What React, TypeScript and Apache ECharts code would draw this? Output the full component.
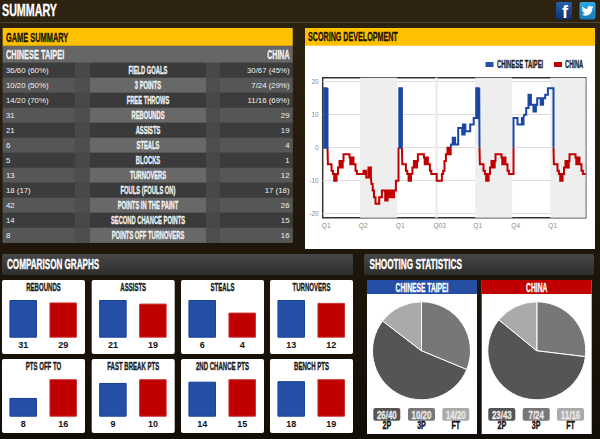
import React, { useEffect, useRef } from "react";
import * as echarts from "echarts";

const TWITTER_D = "M23.953 4.57a10 10 0 0 1-2.825.775 4.958 4.958 0 0 0 2.163-2.723c-.951.555-2.005.959-3.127 1.184a4.92 4.92 0 0 0-8.384 4.482C7.69 8.095 4.067 6.13 1.64 3.162a4.822 4.822 0 0 0-.666 2.475c0 1.71.87 3.213 2.188 4.096a4.904 4.904 0 0 1-2.228-.616v.06a4.923 4.923 0 0 0 3.946 4.827 4.996 4.996 0 0 1-2.212.085 4.936 4.936 0 0 0 4.604 3.417 9.867 9.867 0 0 1-6.102 2.105c-.39 0-.779-.023-1.17-.067a13.995 13.995 0 0 0 7.557 2.209c9.053 0 13.998-7.496 13.998-13.985 0-.21 0-.42-.015-.63A9.935 9.935 0 0 0 24 4.59z";
echarts.graphic.registerShape("twitterBird", echarts.graphic.extendPath(TWITTER_D, {}));

const TEAM_A = "CHINESE TAIPEI";
const TEAM_B = "CHINA";
const BLUE = "#254fa5";
const BLUE_EDGE = "#153f9c";
const RED = "#c00000";
const RED_EDGE = "#c83030";
const BEBAS = '"Liberation Sans Narrow", "Liberation Sans", sans-serif';

const statLabels = ["FIELD GOALS", "3 POINTS", "FREE THROWS", "REBOUNDS", "ASSISTS", "STEALS", "BLOCKS", "TURNOVERS", "FOULS (FOULS ON)", "POINTS IN THE PAINT", "SECOND CHANCE POINTS", "POINTS OFF TURNOVERS"];
const statsA = ["36/60 (60%)", "10/20 (50%)", "14/20 (70%)", "31", "21", "6", "5", "13", "18 (17)", "42", "14", "8"];
const statsB = ["30/67 (45%)", "7/24 (29%)", "11/16 (69%)", "29", "19", "4", "1", "12", "17 (18)", "26", "15", "16"];

const compareTitles = ["REBOUNDS", "ASSISTS", "STEALS", "TURNOVERS", "PTS OFF TO", "FAST BREAK PTS", "2ND CHANCE PTS", "BENCH PTS"];
const compareA = [31, 21, 6, 13, 8, 9, 14, 18];
const compareB = [29, 19, 4, 12, 16, 10, 15, 19];

const shotNames = ["2P", "3P", "FT"];
const shotsA = ["26/40", "10/20", "14/20"];
const shotsB = ["23/43", "7/24", "11/16"];
const pointsA = [52, 30, 14];
const pointsB = [46, 21, 11];

const xTickValues = [3.5, 40.5, 77.5, 117, 155, 193, 230];
const xTickLabels = ["Q1", "Q2", "Q1", "Q03", "Q1", "Q4", "Q1"];
const yTickValues = [-20, -10, 0, 10, 20];
const bands = [[37.5, 74.5], [112.5, 115.2], [152.5, 189.5], [227.5, 263]];

const blueSeg1 = [[0, 0], [1.6, 18], [2.4, 0], [3.2, 18], [4, 0], [4.8, 18], [4.8, 0]];
const blueSeg2 = [[75.8, 0], [76.6, 18], [77.4, 0], [78.2, 18], [79.2, 0]];
const blueSeg3 = [[128, 0], [128.5, 1], [130, 3], [130.8, 1], [131.6, 3], [132.4, 1], [135.5, 6], [139.5, 4], [140.3, 7], [141.1, 4], [141.9, 7], [142.7, 5], [147.5, 7], [151, 9], [153.5, 18], [154.3, 9], [155.1, 18], [155.9, 9], [156.5, 18], [156.8, 0]];
const blueSeg4 = [[190.8, 0], [190.8, 9], [194.8, 7], [199.2, 9], [200, 7], [200.8, 9], [201.5, 10], [203.5, 12], [205.8, 16], [206.6, 13], [207.4, 16], [208.2, 13], [210.8, 11], [211.6, 13], [212.4, 11], [213.2, 13], [214.5, 15], [218, 13], [218.8, 15], [219.6, 13], [220.4, 15], [222.5, 16], [225.2, 18], [230.8, 0]];

const redSeg1 = [[4.8, 0], [5.2, -5], [8.8, -7], [10.2, -8], [11.5, -10], [12.3, -8], [13.1, -10], [13.9, -8], [15.3, -6], [16.8, -4], [17.6, -6], [18.4, -4], [19.2, -6], [20, -4], [20.8, -2], [26.8, -3], [27.6, -5], [28.4, -3], [29.2, -5], [30, -3], [30.8, -5], [32.8, -7], [34.2, -8], [40.8, -7], [41.6, -8], [42.4, -7], [43.5, -9], [45.8, -6], [46.6, -9], [47.4, -6], [48.2, -9], [48.8, -11], [50, -13], [51.3, -15], [52.8, -17], [56.5, -15], [59.2, -13], [62.5, -16], [63.3, -13], [64.1, -16], [64.9, -13], [65.7, -15], [66.5, -13], [67.3, -15], [68.1, -13], [68.9, -15], [69.7, -13], [70.5, -15], [71.3, -13], [73.2, -10], [75.8, 0]];
const redSeg2 = [[79.2, 0], [79.6, -5], [83.2, -7], [84.6, -8], [85.9, -10], [86.7, -8], [87.5, -10], [88.3, -8], [89.7, -6], [91.2, -4], [92, -6], [92.8, -4], [93.6, -6], [94.4, -4], [95.2, -2], [101.2, -3], [102, -5], [102.8, -3], [103.6, -5], [104.4, -3], [105.2, -5], [107.2, -7], [108.6, -8], [114, -10], [119.2, -8], [120.5, -7], [121.8, -4], [123.2, -2], [124.8, 0], [125.6, -2], [126.4, 0], [127.2, -2], [128, 0]];
const redSeg3 = [[156.8, 0], [157.2, -5], [160.8, -7], [162.2, -8], [163.5, -10], [164.3, -8], [165.1, -10], [165.9, -8], [167.3, -6], [168.8, -4], [169.6, -6], [170.4, -4], [171.2, -6], [172, -4], [172.8, -2], [178.8, -3], [179.6, -5], [180.4, -3], [181.2, -5], [182, -3], [182.8, -5], [184.8, -7], [186.2, -8], [190.8, 0]];
const redSeg4 = [[230.8, 0], [231.2, -5], [234.8, -7], [236.2, -8], [237.5, -10], [238.3, -8], [239.1, -10], [239.9, -8], [241.3, -6], [242.8, -4], [243.6, -6], [244.4, -4], [245.2, -6], [246, -4], [246.8, -2], [252.8, -3], [253.6, -5], [254.4, -3], [255.2, -5], [256, -3], [256.8, -5], [258.8, -7], [260.2, -8], [263, -8]];

const cardX = [2, 91.7, 181, 270];
const badgeXA = [373.3, 408, 442.3];
const badgeXB = [488.3, 522.7, 557];
const badgeColors = ["#555555", "#777777", "#aaaaaa"];

const joinSegments = (segs: number[][][]) => {
  const out: (number | null)[][] = [];
  segs.forEach((s) => {
    out.push(...s);
    out.push([s[s.length - 1][0], null]);
  });
  return out;
};

const vGrad = (a: string, b: string) =>
  new echarts.graphic.LinearGradient(0, 0, 0, 1, [
    { offset: 0, color: a },
    { offset: 1, color: b },
  ]);

const box = (x: number, y: number, w: number, h: number, fill: any, r = 0, z = -5, extra: any = {}) => ({
  type: "rect",
  z,
  silent: true,
  shape: { x, y, width: w, height: h, r },
  style: { fill, ...extra },
});

const bebas = (text: string, x: number, y: number, size: number, fill: string, align = "left", scaleX = 0.56) => ({
  type: "text",
  x,
  y,
  scaleX,
  z: 20,
  silent: true,
  style: { text, x: 0, y: 0, align, verticalAlign: "middle", fontFamily: BEBAS, fontWeight: "bold", fontSize: size, fill, stroke: fill, lineWidth: 0.35 },
});

const small = (text: string, x: number, y: number, align = "left") => ({
  type: "text",
  x,
  y,
  z: 20,
  silent: true,
  style: { text, x: 0, y: 0, align, verticalAlign: "middle", fontFamily: '"Liberation Sans", sans-serif', fontSize: 7.8, fill: "#f0f0f0" },
});

const buildGraphic = () => {
  const g: any[] = [];
  g.push(box(0, 0, 600, 439, vGrad("#2e2310", "#120d06"), 0, -20));
  g.push(box(0, 22, 600, 1, "#4b4438", 0, -19));
  g.push(bebas("SUMMARY", 2, 10, 17, "#ffffff", "left", 0.63));
  g.push(box(556, 2, 16, 17.5, vGrad("#2662ad", "#0c2f6e"), 2, -4));
  g.push({ type: "text", x: 565, y: 11.5, z: 20, silent: true, style: { text: "f", x: 0, y: 0, align: "center", verticalAlign: "middle", fontFamily: "Liberation Sans", fontWeight: "bold", fontSize: 18, fill: "#fff" } });
  g.push(box(579.5, 2, 16, 17.5, vGrad("#2fa8e4", "#1878b8"), 2, -4));
  g.push({ type: "twitterBird", x: 581.5, y: 4.8, scaleX: 0.5, scaleY: 0.5, z: 20, silent: true, style: { fill: "#fff" } });

  g.push(box(2.7, 28, 290, 215, "#444444", 0, -5));
  g.push(box(2.7, 28, 290, 17.7, "#ffc000", 0, -4));
  g.push(bebas("GAME SUMMARY", 6, 37, 13, "#1a1200", "left", 0.57));
  g.push(box(2.7, 46, 290, 16.7, "#666666", 0, -4));
  g.push(bebas(TEAM_A, 6, 54.5, 13, "#f2f2f2", "left", 0.57));
  g.push(bebas(TEAM_B, 289.5, 54.5, 13, "#f2f2f2", "right", 0.54));
  statLabels.forEach((label, i) => {
    const y = 62.7 + i * 15;
    const even = i % 2 === 0;
    g.push(box(2.7, y, 72.3, 15, even ? "#3c3c3c" : "#565656", 0, -4));
    g.push(box(75, y, 15, 15, even ? "#484848" : "#4e4e4e", 0, -4));
    g.push(box(90, y, 116, 15, even ? "#3a3a3a" : "#686868", 0, -4));
    g.push(box(206, y, 14, 15, even ? "#484848" : "#4e4e4e", 0, -4));
    g.push(box(220, y, 72.7, 15, even ? "#3c3c3c" : "#565656", 0, -4));
    g.push(bebas(label, 148, y + 7.5, 10.5, "#f0f0f0", "center", 0.55));
    g.push(small(statsA[i], 6, y + 7.5));
    g.push(small(statsB[i], 289.5, y + 7.5, "right"));
  });

  g.push(box(305, 28, 290, 221, "#ffffff", 0, -5));
  g.push(box(305, 28, 290, 17.7, "#ffc000", 0, -4));
  g.push(bebas("SCORING DEVELOPMENT", 308, 37, 13, "#1a1200", "left", 0.55));
  g.push(box(485.5, 62, 8, 5, BLUE, 0, 5));
  g.push(bebas(TEAM_A, 497, 64.5, 10.5, "#222222", "left", 0.56));
  g.push(box(554, 62, 8, 5, RED, 0, 5));
  g.push(bebas(TEAM_B, 565, 64.5, 10.5, "#222222", "left", 0.55));

  g.push(box(2, 254, 351, 21, vGrad("#474747", "#2e2e2e"), 2, -5));
  g.push(bebas("COMPARISON GRAPHS", 7, 264, 14, "#ffffff", "left", 0.58));
  g.push(box(364, 254, 230, 21, vGrad("#474747", "#2e2e2e"), 2, -5));
  g.push(bebas("SHOOTING STATISTICS", 369.5, 264, 14, "#ffffff", "left", 0.585));

  compareTitles.forEach((title, i) => {
    const col = i % 4;
    const row = Math.floor(i / 4);
    const x = cardX[col];
    const y = row === 0 ? 280 : 359;
    g.push(box(x, y, 83, 74, "#ffffff", 2, -5));
    g.push(bebas(title, x + 41.5, y + 7.5, 11, "#1a1a1a", "center", 0.55));
  });

  [[367, BLUE, TEAM_A, shotsA, badgeXA], [481.7, RED, TEAM_B, shotsB, badgeXB]].forEach(([x, color, name, shots, badges]: any) => {
    g.push(box(x, 280, 110, 154, "#ffffff", 0, -5));
    g.push(box(x, 280, 110, 14, color, 0, -4));
    g.push(bebas(name, x + 55, 287.2, 12, "#ffffff", "center", 0.56));
    shots.forEach((s: string, i: number) => {
      g.push(box(badges[i], 408, 27, 12.7, badgeColors[i], 2, 5));
      g.push(bebas(s, badges[i] + 13.5, 414.5, 11, "#e8e8e8", "center", 0.72));
      g.push(bebas(shotNames[i], badges[i] + 13.5, 425.5, 10.5, "#111111", "center", 0.68));
    });
  });
  return g;
};

const buildOption = () => {
  const grids: any[] = [{ left: 322.7, top: 77.7, width: 263, height: 140, show: true, borderColor: "#333333", borderWidth: 1.5, backgroundColor: "#fff" }];
  const xAxes: any[] = [
    {
      type: "value",
      gridIndex: 0,
      min: 0,
      max: 263,
      splitLine: { show: false },
      axisLine: { show: false },
      axisTick: { show: false, customValues: xTickValues },
      axisLabel: {
        customValues: xTickValues,
        formatter: (v: number) => xTickLabels[xTickValues.indexOf(v)] ?? "",
        color: "#8a8a8a",
        fontSize: 6.5,
        fontFamily: "Liberation Sans",
        margin: 4,
      },
    },
  ];
  const yAxes: any[] = [
    {
      type: "value",
      gridIndex: 0,
      min: -21.2,
      max: 21.2,
      axisLine: { show: false },
      axisTick: { show: false, customValues: yTickValues },
      splitLine: { show: true, lineStyle: { color: "#dcdcdc", width: 1 } },
      axisLabel: { customValues: yTickValues, color: "#8a8a8a", fontSize: 6.5, fontFamily: "Liberation Sans", margin: 4 },
    },
  ];
  const series: any[] = [
    {
      name: TEAM_A,
      type: "line",
      xAxisIndex: 0,
      yAxisIndex: 0,
      step: "end",
      showSymbol: false,
      connectNulls: false,
      z: 4,
      lineStyle: { color: "#1a46a4", width: 2, join: "miter" },
      data: joinSegments([blueSeg1, blueSeg2, blueSeg3, blueSeg4]),
    },
    {
      name: TEAM_B,
      type: "line",
      xAxisIndex: 0,
      yAxisIndex: 0,
      step: "end",
      showSymbol: false,
      connectNulls: false,
      z: 3,
      lineStyle: { color: RED, width: 2, join: "miter" },
      data: joinSegments([redSeg1, redSeg2, redSeg3, redSeg4]),
      markArea: {
        silent: true,
        itemStyle: { color: "#eeeeee" },
        data: bands.map(([a, b]) => [{ xAxis: a }, { xAxis: b }]),
      },
    },
  ];

  compareTitles.forEach((_, i) => {
    const col = i % 4;
    const row = Math.floor(i / 4);
    const idx = i + 1;
    grids.push({ left: cardX[col] + 1.2, top: row === 0 ? 300 : 379.2, width: 80, height: row === 0 ? 37.7 : 37.5 });
    xAxes.push({ type: "category", gridIndex: idx, data: [TEAM_A, TEAM_B], show: false });
    yAxes.push({ type: "value", gridIndex: idx, min: 0, max: Math.max(compareA[i], compareB[i]), show: false, splitLine: { show: false } });
    series.push({
      type: "bar",
      xAxisIndex: idx,
      yAxisIndex: idx,
      barWidth: 27.5,
      data: [
        { value: compareA[i], itemStyle: { color: BLUE, borderColor: BLUE_EDGE, borderWidth: 1 } },
        { value: compareB[i], itemStyle: { color: RED, borderColor: RED_EDGE, borderWidth: 1 } },
      ],
      label: { show: true, position: "bottom", distance: 3, color: "#111111", fontFamily: BEBAS, fontWeight: "bold", fontSize: 9 },
    });
  });

  const pie = (cx: number, pts: number[]) => ({
    type: "pie",
    center: [cx, 350.8],
    radius: [0, 49],
    startAngle: 90,
    clockwise: true,
    silent: true,
    label: { show: false },
    labelLine: { show: false },
    itemStyle: { borderColor: "#ffffff", borderWidth: 1 },
    data: [
      { name: shotNames[1], value: pts[1], itemStyle: { color: "#777777" } },
      { name: shotNames[0], value: pts[0], itemStyle: { color: "#555555" } },
      { name: shotNames[2], value: pts[2], itemStyle: { color: "#aaaaaa" } },
    ],
  });
  series.push(pie(421.5, pointsA), pie(536.8, pointsB));

  return {
    animation: false,
    backgroundColor: "#1a1408",
    grid: grids,
    xAxis: xAxes,
    yAxis: yAxes,
    series,
    graphic: { elements: buildGraphic() },
  };
};

export default function App() {
  const ref = useRef<HTMLDivElement>(null);
  useEffect(() => {
    document.body.style.margin = "0";
    document.body.style.overflow = "hidden";
    const chart = echarts.init(ref.current!, undefined, { renderer: "svg" });
    chart.setOption(buildOption() as any);
    return () => chart.dispose();
  }, []);
  return <div ref={ref} style={{ width: 600, height: 439 }} />;
}
